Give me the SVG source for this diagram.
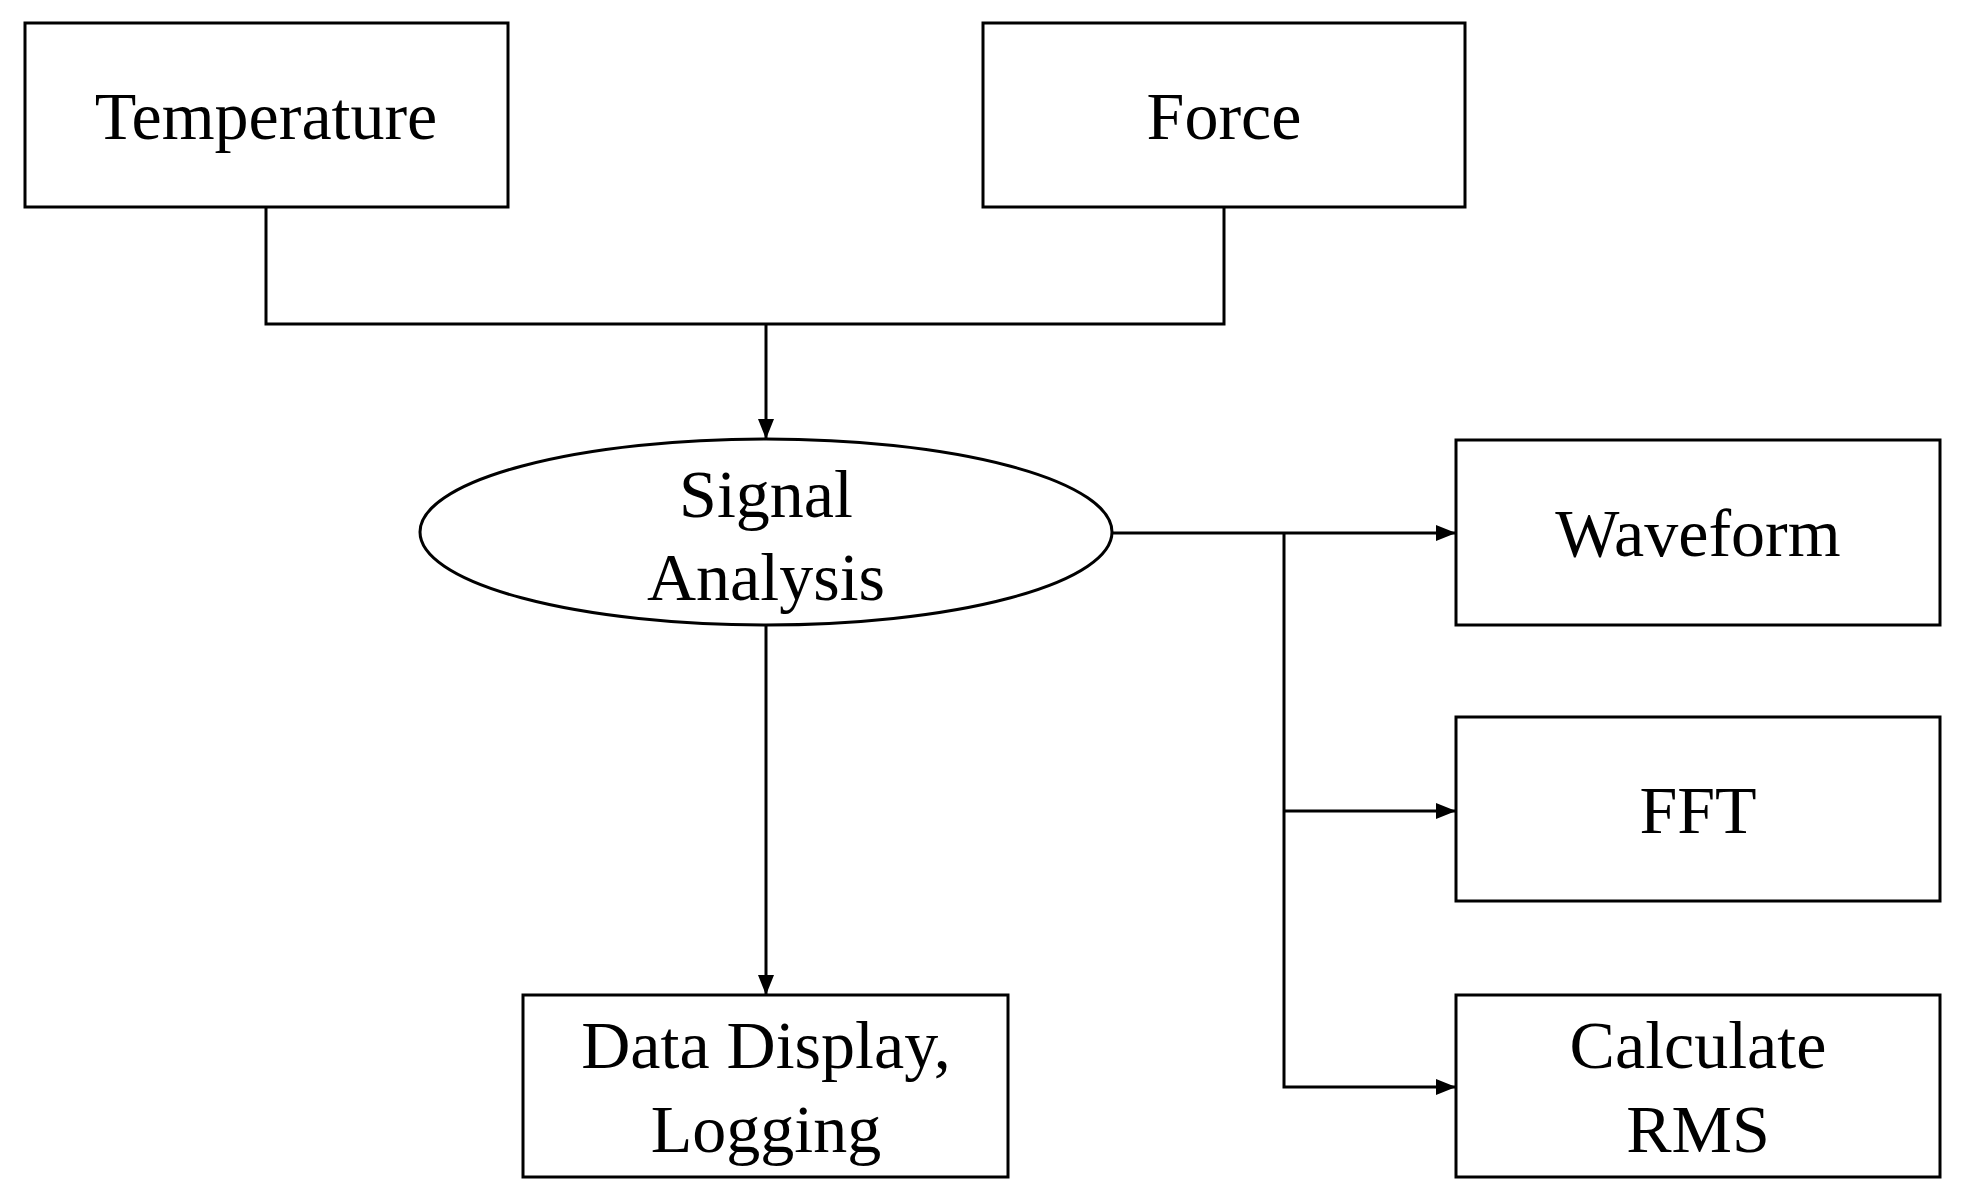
<svg xmlns="http://www.w3.org/2000/svg" width="1966" height="1202" viewBox="0 0 1966 1202">
<style>
.b{fill:#fff;stroke:#000;stroke-width:3}
.t{font-family:"Liberation Serif",serif;font-size:68px;text-anchor:middle;fill:#000}
.c{fill:none;stroke:#000;stroke-width:3}
</style>
<defs><marker id="a" markerWidth="10" markerHeight="10" refX="9" refY="5" orient="auto" markerUnits="userSpaceOnUse" viewBox="0 0 10 10"><path d="M0,0L10,5L0,10z" transform="scale(1)"/></marker>
<marker id="m" viewBox="0 0 20 20" refX="20" refY="10" markerWidth="20" markerHeight="20" orient="auto" markerUnits="userSpaceOnUse"><path d="M0,2L20,10L0,18z"/></marker></defs>
<rect width="1966" height="1202" fill="#fff"/>
<g id="connectors">
<path class="c" d="M266,207V324H1224V207"/>
<path class="c" d="M766,324V439" marker-end="url(#m)"/>
<path class="c" d="M1111,533H1456" marker-end="url(#m)"/>
<path class="c" d="M1284,533V1087H1456" marker-end="url(#m)"/>
<path class="c" d="M1284,811H1456" marker-end="url(#m)"/>
<path class="c" d="M766,625V995" marker-end="url(#m)"/>
</g>
<g id="temperature"><rect class="b" x="25" y="23" width="483" height="184"/><text class="t" x="266" y="139">Temperature</text></g>
<g id="force"><rect class="b" x="983" y="23" width="482" height="184"/><text class="t" x="1224" y="139">Force</text></g>
<g id="signal"><ellipse class="b" cx="766" cy="532" rx="346" ry="93"/><text class="t" x="766" y="517">Signal</text><text class="t" x="766" y="600">Analysis</text></g>
<g id="waveform"><rect class="b" x="1456" y="440" width="484" height="185"/><text class="t" x="1698" y="556">Waveform</text></g>
<g id="fft"><rect class="b" x="1456" y="717" width="484" height="184"/><text class="t" x="1698" y="833">FFT</text></g>
<g id="rms"><rect class="b" x="1456" y="995" width="484" height="182"/><text class="t" x="1698" y="1068">Calculate</text><text class="t" x="1698" y="1152">RMS</text></g>
<g id="data"><rect class="b" x="523" y="995" width="485" height="182"/><text class="t" x="766" y="1068">Data Display,</text><text class="t" x="766" y="1152">Logging</text></g>
</svg>
